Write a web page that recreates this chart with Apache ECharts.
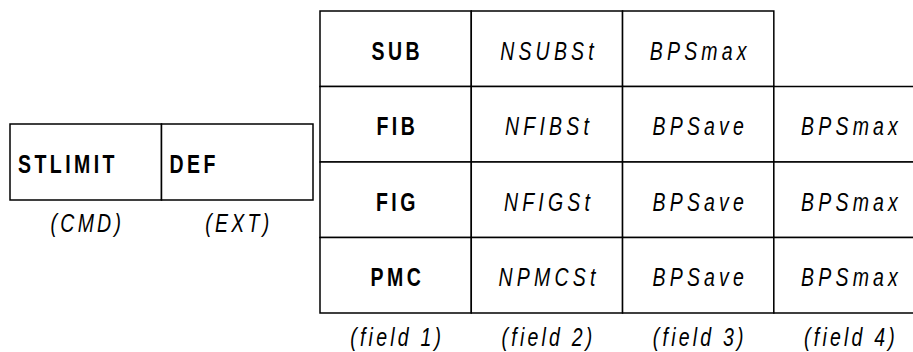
<!DOCTYPE html>
<html><head><meta charset="utf-8">
<script src="https://cdn.jsdelivr.net/npm/echarts@6/dist/echarts.min.js"></script>
<style>
html,body{margin:0;padding:0;background:#fff}
#c{width:913px;height:352px}
</style></head><body><div id="c"></div>
<script>
// ---- data ----
const cmdFields = ['(CMD)', '(EXT)'];
const cmdCells = ['STLIMIT', 'DEF'];
const tableFields = ['(field 1)', '(field 2)', '(field 3)', '(field 4)'];
const tableRows = ['SUB', 'FIB', 'FIG', 'PMC'];
const field2 = ['NSUBSt', 'NFIBSt', 'NFIGSt', 'NPMCSt'];
const field3 = ['BPSmax', 'BPSave', 'BPSave', 'BPSave'];
const field4 = [null, 'BPSmax', 'BPSmax', 'BPSmax'];
// part of the table's column range that is visible in the picture (last column is cut off)
const visibleColumnMax = 3.42;

// ---- text styling ----
const FAM = '"Liberation Sans",Arial,sans-serif';
const FAM_LBL = '"Liberation Sans",Arimo,sans-serif';
const FS = 26;
const SX = 0.75;
const SP_BOLD = 4.6, SP_ITALIC = 5.6, SP_LABEL = 4.3; // letter spacing before horizontal scale
const css = document.createElement('style');
css.textContent = '#c text{letter-spacing:' + SP_BOLD + 'px}' +
  '#c text[style*="italic"]{letter-spacing:' + SP_ITALIC + 'px}' +
  '#c text[style*="Arimo"]{letter-spacing:' + SP_LABEL + 'px}';
document.head.appendChild(css);

// ---- build cells ----
const cmdData = cmdCells.map((t, i) => ({ value: [i, 0], label: t, bold: true }));
const tableData = [];
tableRows.forEach((r, ri) => {
  tableData.push({ value: [0, ri], label: r, bold: true });
  tableData.push({ value: [1, ri], label: field2[ri] });
  tableData.push({ value: [2, ri], label: field3[ri] });
  if (field4[ri]) tableData.push({ value: [3, ri], label: field4[ri] });
});
const cmdLabels = cmdFields.map((t, i) => ({ value: [i, 0], label: t }));
const tableLabels = tableFields.map((t, i) => ({ value: [i, tableRows.length - 1], label: t }));

function txt(label, x, y, align, bold, isLabel) {
  const sp = isLabel ? SP_LABEL : (bold ? SP_BOLD : SP_ITALIC);
  const dx = align === 'center' ? sp * SX / 2 : 0;
  return { type: 'text', x: x + dx, y: y, scaleX: SX,
    style: { text: label, x: 0, y: 0, align: align, verticalAlign: 'middle',
      font: (bold ? 'bold ' : 'italic ') + FS + 'px ' + (isLabel ? FAM_LBL : FAM), fill: '#000' } };
}

function makeCells(list, leftAlign) {
  return function (params, api) {
    const c = api.coord([api.value(0), api.value(1)]);
    const s = api.size([1, 1]);
    const d = list[params.dataIndex];
    const x0 = c[0] - s[0] / 2, y0 = c[1] - s[1] / 2;
    return {
      type: 'group',
      children: [
        { type: 'rect', shape: { x: x0, y: y0, width: s[0], height: s[1] },
          style: { fill: '#fff', stroke: '#000', lineWidth: 1.5 } },
        txt(d.label, leftAlign ? x0 + 8 : c[0], c[1] + 2, leftAlign ? 'left' : 'center', d.bold, false)
      ]
    };
  };
}

function makeFieldLabels(list, gap) {
  return function (params, api) {
    const c = api.coord([api.value(0), api.value(1)]);
    const s = api.size([1, 1]);
    const d = list[params.dataIndex];
    return txt(d.label, c[0], c[1] + s[1] / 2 + gap, 'center', false, true);
  };
}

const chart = echarts.init(document.getElementById('c'), null, { renderer: 'svg' });
chart.setOption({
  backgroundColor: '#fff',
  animation: false,
  grid: [
    { left: 10, top: 124, width: 303, height: 76 },
    { left: 320, top: 11, right: 0, height: 302 }
  ],
  xAxis: [
    { gridIndex: 0, type: 'value', min: -0.5, max: cmdFields.length - 0.5, show: false },
    { gridIndex: 1, type: 'value', min: -0.5, max: visibleColumnMax, show: false }
  ],
  yAxis: [
    { gridIndex: 0, type: 'value', min: -0.5, max: 0.5, show: false, inverse: true },
    { gridIndex: 1, type: 'value', min: -0.5, max: tableRows.length - 0.5, inverse: true, show: false }
  ],
  series: [
    { type: 'custom', xAxisIndex: 0, yAxisIndex: 0, data: cmdData.map(d => d.value), renderItem: makeCells(cmdData, true) },
    { type: 'custom', xAxisIndex: 1, yAxisIndex: 1, data: tableData.map(d => d.value), renderItem: makeCells(tableData, false) },
    { type: 'custom', xAxisIndex: 0, yAxisIndex: 0, data: cmdLabels.map(d => d.value), renderItem: makeFieldLabels(cmdLabels, 23) },
    { type: 'custom', xAxisIndex: 1, yAxisIndex: 1, data: tableLabels.map(d => d.value), renderItem: makeFieldLabels(tableLabels, 24) }
  ]
});
</script></body></html>
